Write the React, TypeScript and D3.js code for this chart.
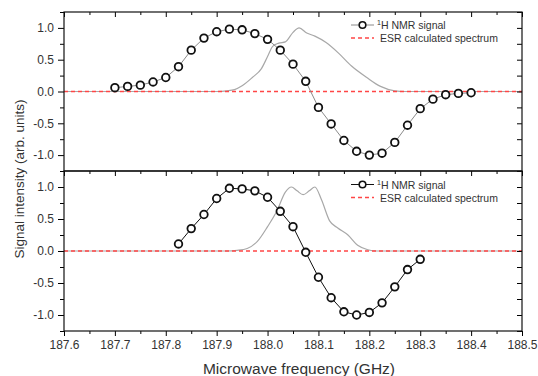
import { useEffect, useRef } from "react";
import * as d3 from "d3";

// NMR points, top panel
const topFreq = [
  187.7, 187.725, 187.75, 187.775, 187.8, 187.825, 187.85, 187.875, 187.9, 187.925,
  187.95, 187.975, 188.0, 188.025, 188.05, 188.075, 188.1, 188.125, 188.15, 188.175,
  188.2, 188.225, 188.25, 188.275, 188.3, 188.325, 188.35, 188.375, 188.4,
];
const topNmr = [
  0.06, 0.08, 0.1, 0.15, 0.22, 0.39, 0.65, 0.84, 0.94, 0.98,
  0.97, 0.91, 0.82, 0.65, 0.43, 0.16, -0.25, -0.51, -0.77, -0.94,
  -1.0, -0.97, -0.8, -0.53, -0.27, -0.12, -0.05, -0.03, -0.02,
];

// NMR points, bottom panel
const bottomFreq = [
  187.825, 187.85, 187.875, 187.9, 187.925, 187.95, 187.975, 188.0, 188.025, 188.05,
  188.075, 188.1, 188.125, 188.15, 188.175, 188.2, 188.225, 188.25, 188.275, 188.3,
];
const bottomNmr = [
  0.11, 0.35, 0.57, 0.82, 0.98, 0.97, 0.94, 0.84, 0.62, 0.38,
  -0.02, -0.41, -0.73, -0.95, -1.0, -0.96, -0.81, -0.56, -0.29, -0.13,
];

// ESR spectrum (grey), top panel
const topEsrFreq = [
  187.6, 187.9, 187.92, 187.935, 187.95, 187.97, 187.988, 188.0, 188.01, 188.022,
  188.035, 188.05, 188.062, 188.077, 188.093, 188.115, 188.14, 188.165, 188.195, 188.222,
  188.25, 188.27, 188.5,
];
const topEsr = [
  0, 0, 0.01, 0.03, 0.09, 0.22, 0.36, 0.55, 0.71, 0.76,
  0.78, 0.93, 1.0, 0.92, 0.87, 0.77, 0.6, 0.4, 0.22, 0.08,
  0.01, 0, 0,
];

// ESR spectrum (grey), bottom panel
const bottomEsrFreq = [
  187.6, 187.92, 187.94, 187.96, 187.98, 188.0, 188.018, 188.035, 188.047, 188.058,
  188.07, 188.082, 188.093, 188.106, 188.122, 188.138, 188.158, 188.177, 188.197, 188.215,
  188.5,
];
const bottomEsr = [
  0, 0, 0.01, 0.04, 0.15, 0.38, 0.62, 0.92, 1.0, 0.94,
  0.88, 0.94, 1.0, 0.8, 0.47, 0.36, 0.25, 0.09, 0.02, 0,
  0,
];

const xMajor = [187.6, 187.7, 187.8, 187.9, 188.0, 188.1, 188.2, 188.3, 188.4, 188.5];
const xMinor = [187.65, 187.75, 187.85, 187.95, 188.05, 188.15, 188.25, 188.35, 188.45];
const yMajor = [-1.0, -0.5, 0.0, 0.5, 1.0];
const yMinor = [-1.25, -0.75, -0.25, 0.25, 0.75, 1.25];

const legendNmr = "H NMR signal";
const legendEsr = "ESR calculated spectrum";

const FONT = "'Liberation Sans', Arial, sans-serif";
const RED = "#ff4646";

export default function App() {
  const ref = useRef<SVGSVGElement>(null);

  useEffect(() => {
    if (!ref.current) return;
    const svg = d3.select(ref.current);
    svg.selectAll("*").remove();

    const W = 538;
    const H = 376;
    const left = 64;
    const right = 522;
    const top = 12;
    const mid = 171;
    const bottom = 331;

    const x = d3.scaleLinear().domain([187.6, 188.5]).range([left, right]);

    const panels = [
      {
        y0: top, y1: mid, freq: topFreq, nmr: topNmr,
        esrFreq: topEsrFreq, esr: topEsr, lineColor: "#8a8a8a", bottomAxis: false,
      },
      {
        y0: mid, y1: bottom, freq: bottomFreq, nmr: bottomNmr,
        esrFreq: bottomEsrFreq, esr: bottomEsr, lineColor: "#111", bottomAxis: true,
      },
    ];

    svg.attr("width", W).attr("height", H).style("font-family", FONT);

    panels.forEach((p, pi) => {
      const y = d3.scaleLinear().domain([-1.25, 1.25]).range([p.y1, p.y0]);
      const g = svg.append("g");

      // ESR grey curve
      const esrLine = d3.line<number>()
        .x((_, i) => x(p.esrFreq[i]))
        .y((d) => y(d))
        .curve(d3.curveMonotoneX);
      g.append("path")
        .attr("d", esrLine(p.esr))
        .attr("fill", "none")
        .attr("stroke", "#a8a8a8")
        .attr("stroke-width", 1.2);

      // zero line (red dashed), drawn over the grey baseline
      g.append("line")
        .attr("x1", x(187.6)).attr("x2", x(188.5))
        .attr("y1", y(0)).attr("y2", y(0))
        .attr("stroke", RED).attr("stroke-width", 1.4)
        .attr("stroke-dasharray", "4,3");

      // NMR line + circles
      const nmrLine = d3.line<number>()
        .x((_, i) => x(p.freq[i]))
        .y((d) => y(d));
      g.append("path")
        .attr("d", nmrLine(p.nmr))
        .attr("fill", "none")
        .attr("stroke", p.lineColor)
        .attr("stroke-width", 1);
      g.selectAll("circle.pt")
        .data(p.nmr)
        .enter()
        .append("circle")
        .attr("class", "pt")
        .attr("cx", (_, i) => x(p.freq[i]))
        .attr("cy", (d) => y(d))
        .attr("r", 3.8)
        .attr("fill", "white")
        .attr("stroke", "#111")
        .attr("stroke-width", 1.8);

      // axes
      const fmt = (d: d3.NumberValue) => (+d).toFixed(1);
      const leftAx = g.append("g").attr("transform", `translate(${left},0)`)
        .call(d3.axisLeft(y).tickValues(yMajor).tickSize(6).tickFormat(fmt));
      g.append("g").attr("transform", `translate(${left},0)`)
        .call(d3.axisLeft(y).tickValues(yMinor).tickSize(4).tickFormat(() => ""));
      g.append("g").attr("transform", `translate(${right},0)`)
        .call(d3.axisLeft(y).tickValues([...yMajor, ...yMinor]).tickSize(5).tickFormat(() => ""));
      g.append("g").attr("transform", `translate(0,${p.y0})`)
        .call(d3.axisBottom(x).tickValues(xMajor).tickSize(5).tickFormat(() => ""));
      g.append("g").attr("transform", `translate(0,${p.y0})`)
        .call(d3.axisBottom(x).tickValues(xMinor).tickSize(3).tickFormat(() => ""));
      if (p.bottomAxis) {
        g.append("g").attr("transform", `translate(0,${p.y1})`)
          .call(d3.axisBottom(x).tickValues(xMajor).tickSize(5).tickPadding(4).tickFormat(fmt))
          .selectAll("text")
          .attr("font-size", 12).attr("fill", "#333").attr("font-family", FONT);
        g.append("g").attr("transform", `translate(0,${p.y1})`)
          .call(d3.axisBottom(x).tickValues(xMinor).tickSize(3).tickFormat(() => ""));
      }
      leftAx.selectAll("text").attr("font-size", 12).attr("fill", "#333")
        .attr("font-family", FONT).attr("dx", -1);
      g.selectAll(".domain").remove();

      // frame
      g.append("rect")
        .attr("x", left).attr("y", p.y0)
        .attr("width", right - left).attr("height", p.y1 - p.y0)
        .attr("fill", "none").attr("stroke", "#111").attr("stroke-width", 1.2);

      // legend
      const ly1 = p.y0 + (pi === 0 ? 13 : 13.5);
      const ly2 = ly1 + 13;
      const lg = g.append("g").attr("font-size", 10.5).attr("fill", "#333");
      lg.append("line")
        .attr("x1", 351).attr("x2", 374).attr("y1", ly1).attr("y2", ly1)
        .attr("stroke", p.lineColor).attr("stroke-width", 1);
      lg.append("circle")
        .attr("cx", 362.5).attr("cy", ly1).attr("r", 3.3)
        .attr("fill", "white").attr("stroke", "#111").attr("stroke-width", 1.6);
      const t1 = lg.append("text").attr("x", 377).attr("y", ly1 + 4);
      t1.append("tspan").attr("font-size", 7).attr("dy", -4).text("1");
      t1.append("tspan").attr("dy", 4).text(legendNmr);
      lg.append("line")
        .attr("x1", 351).attr("x2", 374).attr("y1", ly2).attr("y2", ly2)
        .attr("stroke", RED).attr("stroke-width", 1.4)
        .attr("stroke-dasharray", "4,3");
      lg.append("text").attr("x", 380).attr("y", ly2 + 4).text(legendEsr);
    });

    // axis titles
    svg.append("text")
      .attr("transform", `translate(24,179) rotate(-90)`)
      .attr("text-anchor", "middle")
      .attr("font-size", 13.5)
      .attr("fill", "#333")
      .text("Signal intensity (arb. units)");
    svg.append("text")
      .attr("x", 299).attr("y", 374)
      .attr("text-anchor", "middle")
      .attr("font-size", 15.5)
      .attr("fill", "#333")
      .text("Microwave frequency (GHz)");
  }, []);

  return (
    <div style={{ position: "absolute", left: 0, top: 0, background: "white" }}>
      <svg ref={ref} width={538} height={376} />
    </div>
  );
}
